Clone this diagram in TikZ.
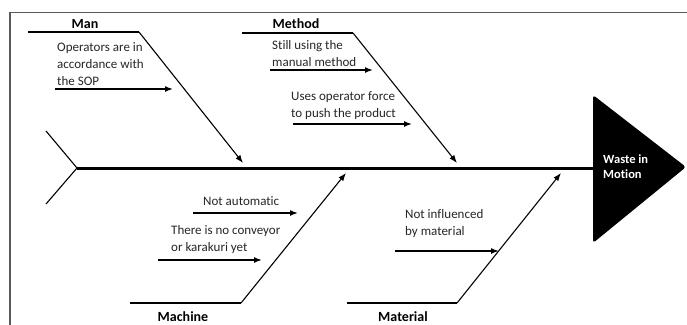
\documentclass[tikz,border=0pt]{standalone}
\usepackage{fontspec}
\setmainfont{Carlito}[Ligatures=NoCommon]
\usetikzlibrary{arrows.meta}
\begin{document}
\begin{tikzpicture}[x=1pt,y=-1pt,
  frame/.style={draw=black!65,line width=1.3pt},
  bone/.style={line width=1.1pt},
  spine/.style={line width=3pt},
  bonearrow/.style={line width=1.1pt,-{Latex[length=8pt,width=6pt]}},
  cause/.style={line width=1.5pt,-{Latex[length=8pt,width=6pt]}},
  heading/.style={font=\fontsize{14}{17}\selectfont\bfseries,anchor=base,inner sep=0pt},
  txt/.style={font=\fontsize{13}{17}\selectfont,anchor=base west,align=left,inner sep=0pt,text=black!85},
  headtxt/.style={font=\fontsize{12.5}{14.5}\selectfont\bfseries,anchor=base west,align=left,inner sep=0pt,text=white}]
\useasboundingbox (0,0) rectangle (687,324);
% frame
\coordinate (fb) at (10,326);
\coordinate (ftl) at (10,12.7);
\coordinate (ftr) at (688,12.7);
\draw[frame] (fb) -- (ftl) -- (ftr);
% head
\coordinate (h1) at (593,95);
\coordinate (h2) at (686,167);
\coordinate (h3) at (593,243);
\fill[rounded corners=3pt] (h1) -- (h2) -- (h3) -- cycle;
% spine and tail
\coordinate (s0) at (77,168);
\coordinate (s1) at (594,168);
\coordinate (t1) at (46,131);
\coordinate (t2) at (46,204);
\draw[spine] (s0) -- (s1);
\draw[bone] (t1) -- (s0) -- (t2);
% Man
\coordinate (manA) at (28,32);
\coordinate (manB) at (139,32);
\coordinate (manC) at (243,163);
\draw[bone] (manA) -- (manB);
\draw[bonearrow] (manB) -- (manC);
% Method
\coordinate (metA) at (242,33);
\coordinate (metB) at (353,33);
\coordinate (metC) at (457,163);
\draw[bone] (metA) -- (metB);
\draw[bonearrow] (metB) -- (metC);
% Machine
\coordinate (macA) at (130,303);
\coordinate (macB) at (241,303);
\coordinate (macC) at (346,173);
\draw[bone] (macA) -- (macB);
\draw[bonearrow] (macB) -- (macC);
% Material
\coordinate (matA) at (347,303);
\coordinate (matB) at (457,303);
\coordinate (matC) at (561,173);
\draw[bone] (matA) -- (matB);
\draw[bonearrow] (matB) -- (matC);
% cause arrows
\coordinate (a1s) at (55,89);   \coordinate (a1e) at (173,89);
\coordinate (a2s) at (270,70);  \coordinate (a2e) at (373,70);
\coordinate (a3s) at (293,124); \coordinate (a3e) at (412,124);
\coordinate (a4s) at (193,213); \coordinate (a4e) at (298,213);
\coordinate (a5s) at (158,260); \coordinate (a5e) at (262,260);
\coordinate (a6s) at (395,251); \coordinate (a6e) at (499,251);
\draw[cause] (a1s) -- (a1e);
\draw[cause] (a2s) -- (a2e);
\draw[cause] (a3s) -- (a3e);
\draw[cause] (a4s) -- (a4e);
\draw[cause] (a5s) -- (a5e);
\draw[cause] (a6s) -- (a6e);
% headings
\node[heading] (man) at (85,28) {Man};
\node[heading] (method) at (296,28) {Method};
\node[heading] (machine) at (183,321) {Machine};
\node[heading] (material) at (403,321) {Material};
% texts (base anchor = last line baseline)
\node[txt] (t1n) at (57,85) {Operators are in\\accordance with\\the SOP};
\node[txt] (t2n) at (272,66) {Still using the\\manual method};
\node[txt] (t3n) at (291,117) {Uses operator force\\to push the product};
\node[txt] (t4n) at (203,205) {Not automatic};
\node[txt] (t5n) at (171,251) {There is no conveyor\\or karakuri yet};
\node[txt] (t6n) at (405,235) {Not influenced\\by material};
\node[headtxt] (waste) at (603,178) {Waste in\\Motion};
\end{tikzpicture}
\end{document}
